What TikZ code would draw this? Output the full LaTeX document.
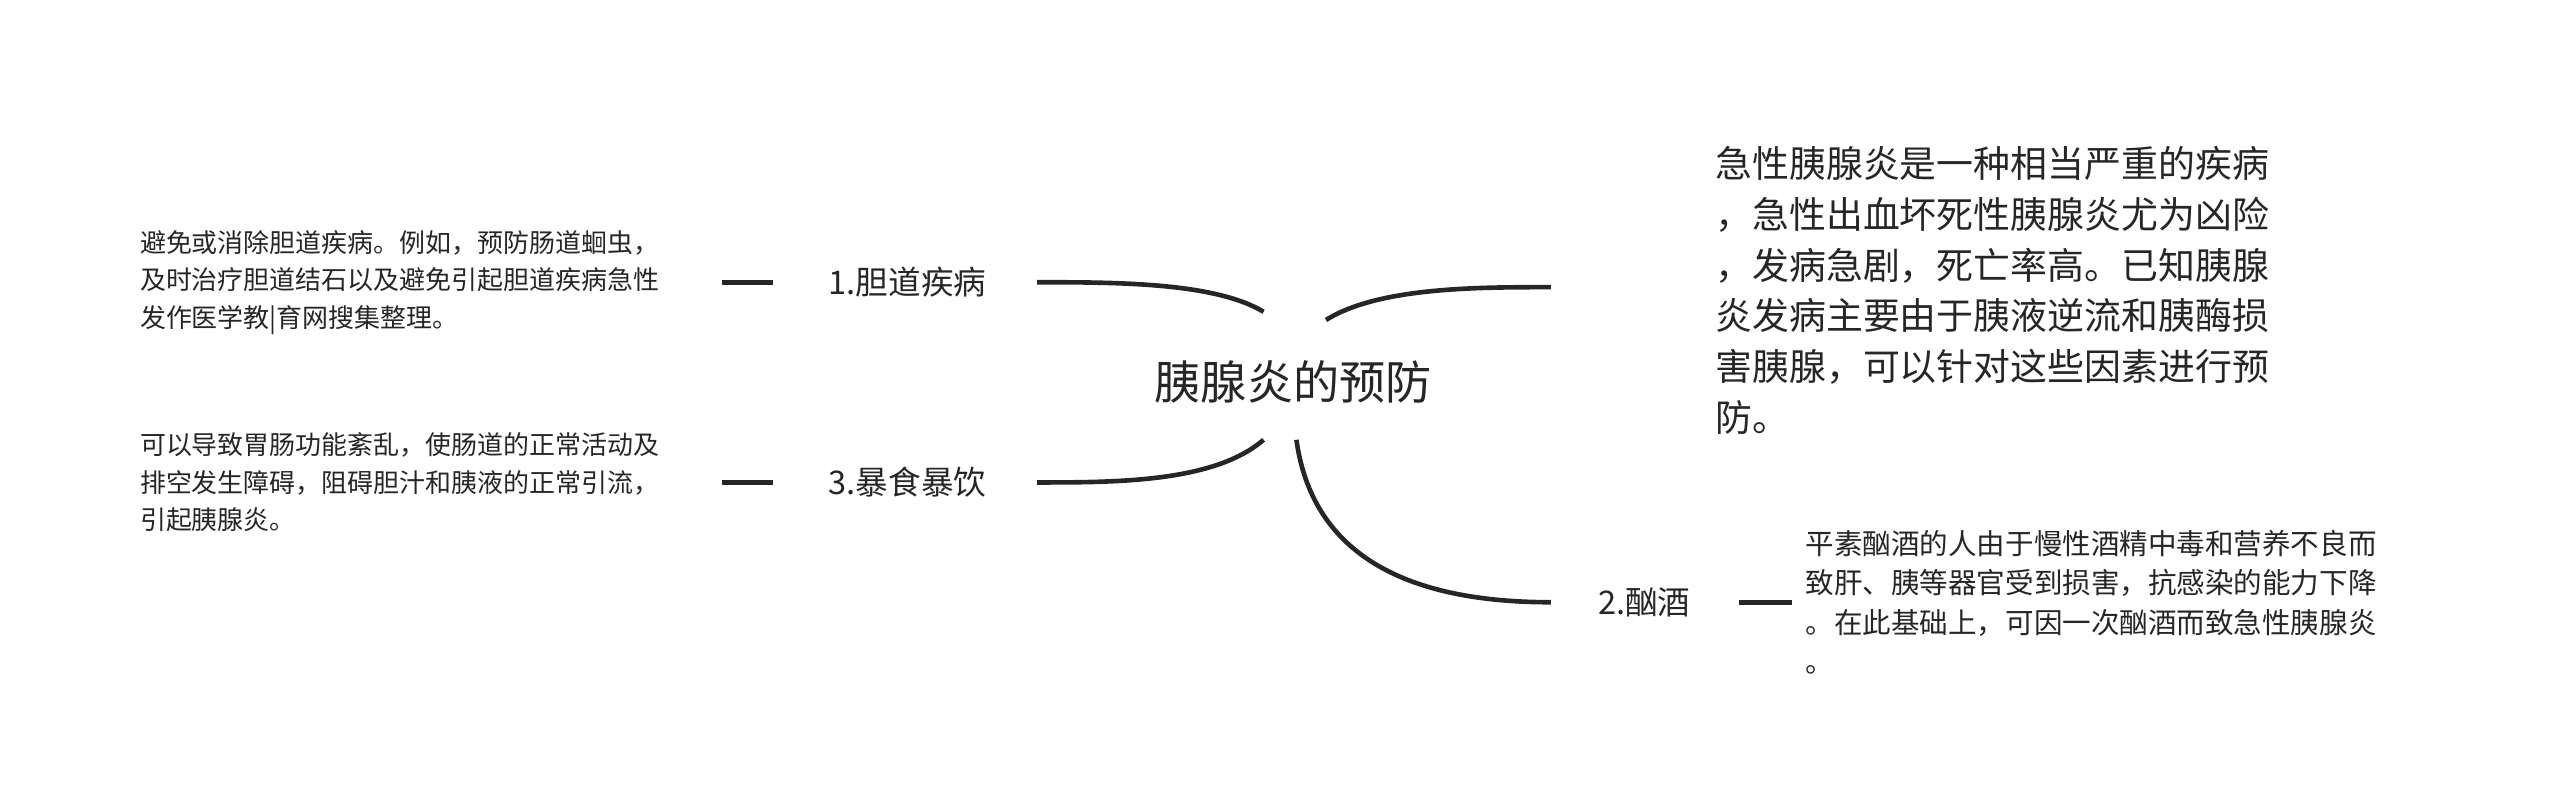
\documentclass[tikz,border=0pt]{standalone}
\usepackage{fontspec}
\setmainfont{Noto Sans CJK SC}
\begin{document}
\begin{tikzpicture}[x=0.02cm,y=-0.02cm,
  br/.style={line width=1.6pt,draw=black!85},
  lab/.style={inner sep=0,font=\fontsize{11.3}{13}\selectfont,text=black!85},
  leaf/.style={inner sep=0,anchor=west,align=left,font=\fontsize{9}{13}\selectfont,text=black!85}]
\path[use as bounding box] (0,0) rectangle (1560,492);
\node[inner sep=0,font=\fontsize{16}{18}\selectfont,text=black!85] (c) at (788,233) {胰腺炎的预防};
\coordinate (c1) at (770,190);
\coordinate (c3) at (770,268);
\coordinate (c4) at (808,195);
\coordinate (c2) at (790,268);
\node[lab] (b1) at (553,172) {1.胆道疾病};
\node[lab] (b3) at (553,294) {3.暴食暴饮};
\node[lab] (b2) at (1002,367) {2.酗酒};
\coordinate (e1) at (632,172);
\coordinate (e3) at (632,294);
\coordinate (e4) at (945,175);
\coordinate (e2) at (945,367);
\draw[br] (c1) .. controls (740,172) and (680,172) .. (e1);
\draw[br] (c3) .. controls (740,294) and (680,294) .. (e3);
\draw[br] (c4) .. controls (840,175) and (900,175) .. (e4);
\draw[br] (c2) .. controls (800,340) and (860,367) .. (e2);
\coordinate (d1a) at (440,172); \coordinate (d1b) at (471,172);
\coordinate (d3a) at (440,294); \coordinate (d3b) at (471,294);
\coordinate (d2a) at (1060,367); \coordinate (d2b) at (1092,367);
\draw[br] (d1a) -- (d1b);
\draw[br] (d3a) -- (d3b);
\draw[br] (d2a) -- (d2b);
\node[leaf] (l1) at (85,172) {避免或消除胆道疾病。例如，预防肠道蛔虫，\\及时治疗胆道结石以及避免引起胆道疾病急性\\发作医学教|育网搜集整理。};
\node[leaf] (l3) at (85,294) {可以导致胃肠功能紊乱，使肠道的正常活动及\\排空发生障碍，阻碍胆汁和胰液的正常引流，\\引起胰腺炎。};
\node[leaf,font=\fontsize{12.8}{17.6}\selectfont] (l4) at (1045,177) {急性胰腺炎是一种相当严重的疾病\\，急性出血坏死性胰腺炎尤为凶险\\，发病急剧，死亡率高。已知胰腺\\炎发病主要由于胰液逆流和胰酶损\\害胰腺，可以针对这些因素进行预\\防。};
\node[leaf,font=\fontsize{9.9}{13.6}\selectfont] (l2) at (1100,367) {平素酗酒的人由于慢性酒精中毒和营养不良而\\致肝、胰等器官受到损害，抗感染的能力下降\\。在此基础上，可因一次酗酒而致急性胰腺炎\\。};
\end{tikzpicture}
\end{document}
